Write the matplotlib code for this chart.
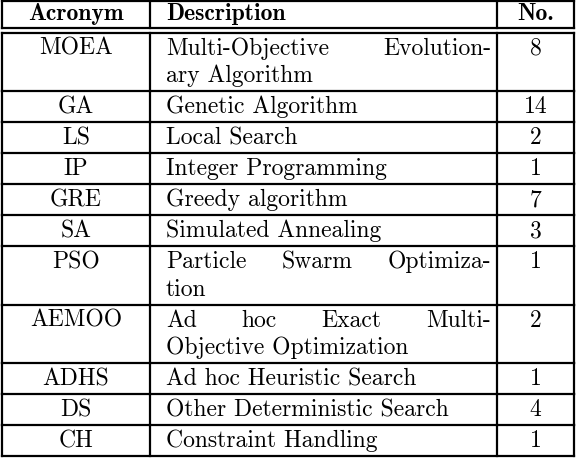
import matplotlib
matplotlib.use("Agg")
import matplotlib.pyplot as plt

acronyms = ["MOEA","GA","LS","IP","GRE","SA","PSO","AEMOO","ADHS","DS","CH"]
descriptions = [["Multi-Objective Evolution-","ary Algorithm"],["Genetic Algorithm"],["Local Search"],
                ["Integer Programming"],["Greedy algorithm"],["Simulated Annealing"],
                ["Particle Swarm Optimiza-","tion"],["Ad hoc Exact Multi-","Objective Optimization"],
                ["Ad hoc Heuristic Search"],["Other Deterministic Search"],["Constraint Handling"]]
counts = [8,14,2,1,7,3,1,2,1,4,1]
headers = ["Acronym","Description","No."]

W,H = 576,460
fig = plt.figure(figsize=(W/100,H/100),dpi=100)
ax = fig.add_axes([0,0,1,1]); ax.set_xlim(0,W); ax.set_ylim(H,0); ax.axis('off')
x0,x1,x2,x3 = 2,150,497,574
lw=1.6
fs=17
rm = dict(family='cmr10', fontsize=fs)
bf = dict(family='cmb10', fontsize=fs)
single, line_h = 31, 27.5
# header
ax.plot([x0,x3],[1.5,1.5],'k',lw=lw)
ax.plot([x0,x3],[28.5,28.5],'k',lw=lw)
ax.plot([x0,x3],[33.5,33.5],'k',lw=lw)
ax.plot([x0,x0],[1.5,28.5],'k',lw=lw); ax.plot([x3,x3],[1.5,28.5],'k',lw=lw)
ax.plot([x1,x1],[1.5,28.5],'k',lw=lw); ax.plot([x2,x2],[1.5,28.5],'k',lw=lw)
ax.text((x0+x1)/2,14,headers[0],ha='center',va='center',**bf)
ax.text(x1+16,14,headers[1],ha='left',va='center',**bf)
ax.text((x2+x3)/2,14,headers[2],ha='center',va='center',**bf)
fig.canvas.draw()
r = fig.canvas.get_renderer()
def justify(words, y, left, right):
    ts=[ax.text(0,y,w,ha='left',va='center',**rm) for w in words]
    ws=[t.get_window_extent(r).width for t in ts]
    gap=(right-left-sum(ws))/(len(words)-1)
    x=left
    for t,w in zip(ts,ws):
        t.set_x(x); x+=w+gap
y=33.5
for a,d,c in zip(acronyms,descriptions,counts):
    h = single + (len(d)-1)*line_h
    ty = y + 15
    ax.text((x0+x1)/2,ty,a,ha='center',va='center',**rm)
    ax.text((x2+x3)/2,ty,str(c),ha='center',va='center',**rm)
    for i,l in enumerate(d):
        yy=ty+i*line_h
        if i < len(d)-1:
            justify(l.split(' '), yy, x1+16, x2-6)
        else:
            ax.text(x1+16,yy,l,ha='left',va='center',**rm)
    y2=y+h
    for xx in (x0,x1,x2,x3):
        ax.plot([xx,xx],[y,y2],'k',lw=lw)
    ax.plot([x0,x3],[y2,y2],'k',lw=lw)
    y=y2
fig.savefig("out.png",dpi=100)
